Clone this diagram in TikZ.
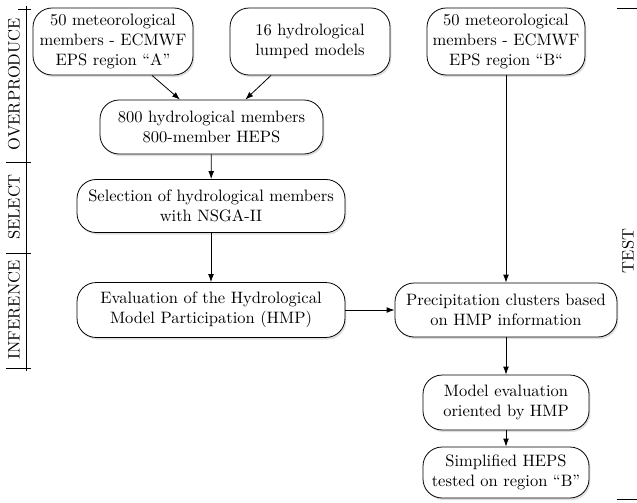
\documentclass[tikz,border=0pt]{standalone}
\usepackage{tikz}
\usetikzlibrary{shadows,arrows.meta}

\begin{document}
\begin{tikzpicture}[x=0.63pt, y=-0.63pt, font=\fontsize{10.4}{12.4}\selectfont,
		box/.style={rectangle, rounded corners=12pt, draw=black, fill=white, line width=0.5pt, align=center, inner sep=2pt,
			drop shadow={opacity=0.25, shadow xshift=0.9pt, shadow yshift=-1.3pt}},
		arr/.style={-{Latex[length=5pt,width=3.6pt]}, line width=0.5pt}]
		
		\useasboundingbox (0,0) rectangle (637,502);
		
		% Inputs
		\node[box, minimum width=100.8pt, minimum height=42.2pt] (metA) at (113, 41.5) {50 meteorological\\members - ECMWF\\EPS region ``A''};
		\node[box, minimum width=100.8pt, minimum height=42.2pt] (models) at (310, 41.5) {16 hydrological\\lumped models};
		\node[box, minimum width=99.5pt, minimum height=42.2pt] (metB) at (506, 41.5) {50 meteorological\\members - ECMWF\\EPS region ``B``};
		
		% Left column
		\node[box, minimum width=140.5pt, minimum height=34pt] (heps) at (211.5, 127) {800 hydrological members\\800-member HEPS};
		\node[box, minimum width=168.8pt, minimum height=33.4pt] (sel) at (211, 206) {Selection of hydrological members\\with NSGA-II};
		\node[box, minimum width=168.8pt, minimum height=34.6pt] (hmp) at (211, 310) {Evaluation of the Hydrological\\Model Participation (HMP)};
		
		% Right column
		\node[box, minimum width=139.9pt, minimum height=34pt] (clus) at (506, 310) {Precipitation clusters based\\on HMP information};
		\node[box, minimum width=104.6pt, minimum height=34.6pt] (meval) at (506, 402.5) {Model evaluation\\oriented by HMP};
		\node[box, minimum width=104.6pt, minimum height=32.1pt] (simp) at (506, 472.5) {Simplified HEPS\\tested on region ``B''};
		
		% Connect
		\draw[arr] (metA.-41) -- (heps.139);
		\draw[arr] (models.-139) -- (heps.39);
		\draw[arr] (heps) -- (sel);
		\draw[arr] (sel) -- (hmp);
		\draw[arr] (hmp) -- (clus);
		\draw[arr] (metB) -- (clus);
		\draw[arr] (clus) -- (meval);
		\draw[arr] (meval) -- (simp);
		
		% Stages
		\draw[line width=0.5pt] (26, 6) -- (26, 371);
		\draw[line width=0.5pt] (18, 9) -- (31, 9);
		\draw[line width=0.5pt] (6, 162) -- (31, 162);
		\draw[line width=0.5pt] (6, 253) -- (31, 253);
		\draw[line width=0.5pt] (6, 368) -- (31, 368);
		\node[rotate=90] (over) at (14, 84) {OVERPRODUCE};
		\node[rotate=90] (select) at (14, 207) {SELECT};
		\node[rotate=90] (infer) at (14, 310) {INFERENCE};
		
		\draw[line width=0.5pt] (617, 8) -- (637, 8);
		\draw[line width=0.5pt] (617, 499) -- (637, 499);
		\node[rotate=90] (test) at (628, 251) {TEST};
		
	\end{tikzpicture}
\end{document}
